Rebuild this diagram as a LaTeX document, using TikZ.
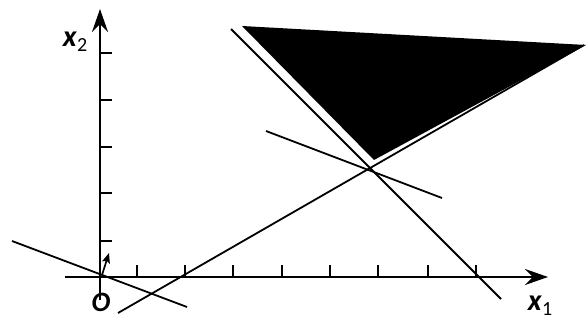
\documentclass[tikz,border=0pt]{standalone}
\usepackage{fontspec}
\setmainfont{Carlito}
\usetikzlibrary{arrows.meta}
\begin{document}
\begin{tikzpicture}[x=1pt,y=-1pt,
  axis/.style={line width=1.9pt,-{Stealth[length=23pt,width=16pt,inset=8pt]}},
  ln/.style={line width=1.8pt},
  tick/.style={line width=1.7pt},
  lbl/.style={inner sep=0pt,font=\fontsize{30}{34}\selectfont}]
\useasboundingbox (0,0) rectangle (588,320);
% feasible region
\fill[black] (242,26) -- (586,45) -- (374,160) -- cycle;
% axes
\coordinate (xs) at (65,277);
\coordinate (xe) at (548,277);
\coordinate (ys) at (100,300);
\coordinate (ye) at (100,9);
\draw[axis] (xs) -- (xe);
\draw[axis] (ys) -- (ye);
% ticks
\foreach \y in {241,193,147,100,53} \draw[tick] (100,\y) -- (112,\y);
\foreach \x in {137,185,233,282,330,378,428,476} \draw[tick] (\x,277) -- (\x,265);
% lines
\coordinate (a1) at (12,241); \coordinate (a2) at (187,307);
\coordinate (b1) at (118,313); \coordinate (b2) at (584,45);
\coordinate (c1) at (231,29); \coordinate (c2) at (501,299);
\coordinate (d1) at (266,131); \coordinate (d2) at (442,198);
\draw[ln] (a1) -- (a2);
\draw[ln] (b1) -- (b2);
\draw[ln] (c1) -- (c2);
\draw[ln] (d1) -- (d2);
% normal vector
\coordinate (n1) at (102,275); \coordinate (n2) at (109,253);
\draw[line width=1.7pt,-{Stealth[length=10pt,width=8pt,inset=2pt]}] (n1) -- (n2);
% labels
\node[lbl] (lx2) at (75,42) {\textbf{\textit{x}}\raisebox{-0.16em}{\fontsize{20}{24}\selectfont 2}};
\node[lbl] (lx1) at (540,306) {\textbf{\textit{x}}\raisebox{-0.16em}{\fontsize{20}{24}\selectfont 1}};
\node[lbl,font=\fontsize{28}{32}\selectfont] (lO) at (101,302) {\textbf{\textit{O}}};
\end{tikzpicture}
\end{document}
